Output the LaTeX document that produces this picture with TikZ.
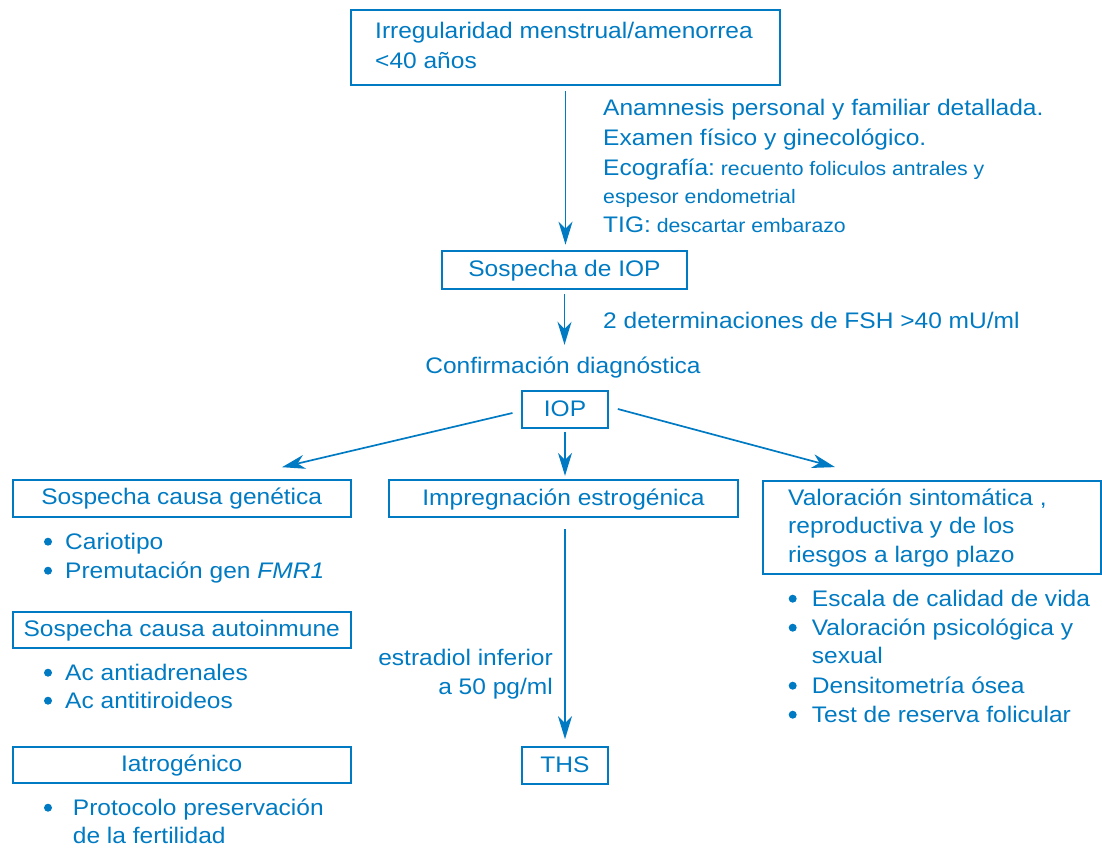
\documentclass[tikz,border=0pt]{standalone}
\usepackage{fontspec}
\setmainfont{Liberation Sans}[FakeStretch=1.09]
\usetikzlibrary{arrows.meta,calc}
\definecolor{ink}{RGB}{0,122,194}
\newcommand\fsbig{\fontsize{22.5pt}{30pt}\selectfont}
\newcommand\fssmall{\fontsize{19.5pt}{26pt}\selectfont}
\begin{document}
\begin{tikzpicture}[x=1pt,y=-1pt,
  every node/.append style={text=ink, inner sep=0pt, font=\fsbig},
  box/.style={draw=ink, line width=1.7pt, text height=17pt, text depth=4pt},
  txt/.style={anchor=base west},
  rtxt/.style={anchor=base east},
  dot/.style={circle, fill=ink, minimum size=8pt},
  arr/.style={draw=ink, line width=1.7pt, -{Stealth[length=23pt,width=14pt,inset=7pt]}}]
\useasboundingbox (0,0) rectangle (1102,848);

% top of the flow
\node[box, minimum width=429pt, minimum height=75pt] (top) at (565.5,47.5) {};
\node[txt] (top1) at (375,39) {Irregularidad menstrual/amenorrea};
\node[txt] (top2) at (375,69) {<40 años};

\node[txt] (n1) at (603,116) {Anamnesis personal y familiar detallada.};
\node[txt] (n2) at (603,145.7) {Examen físico y ginecológico.};
\node[txt] (n3) at (603,175) {Ecografía:{\fssmall\ recuento foliculos antrales y}};
\node[txt] (n4) at (603,203) {\fssmall espesor endometrial};
\node[txt] (n5) at (603,232.7) {TIG:{\fssmall\ descartar embarazo}};

\node[box, minimum width=245pt, minimum height=38pt] (sosp) at (564.5,270) {Sospecha de IOP};
\node[txt] (fsh) at (603,328) {2 determinaciones de FSH >40 mU/ml};
\node[anchor=base, text height=17pt, text depth=4pt] (conf) at (563,373) {Confirmación diagnóstica};

\node[box, minimum width=86pt, minimum height=37pt] (iop) at (565,409.5) {IOP};

% three branches
\node[box, minimum width=338pt, minimum height=36.7pt] (gen) at (181.7,498.4) {Sospecha causa genética};
\node[box, minimum width=349pt, minimum height=37pt] (imp) at (563.5,498.5) {Impregnación estrogénica};
\node[box, minimum width=338pt, minimum height=93.3pt] (val) at (932,527.3) {};
\node[txt] (v1) at (788,505) {Valoración sintomática ,};
\node[txt] (v2) at (788,533) {reproductiva y de los};
\node[txt] (v3) at (788,562) {riesgos a largo plazo};

% left column
\node[dot] (gb1) at (48,541.7) {};
\node[txt] (g1) at (65,549) {Cariotipo};
\node[dot] (gb2) at (48,570.7) {};
\node[txt] (g2) at (65,578) {Premutación gen \textit{FMR1}};

\node[box, minimum width=338pt, minimum height=36pt] (auto) at (181.7,629.7) {Sospecha causa autoinmune};
\node[dot] (ab1) at (48,672.7) {};
\node[txt] (a1) at (65,680) {Ac antiadrenales};
\node[dot] (ab2) at (48,700.7) {};
\node[txt] (a2) at (65,708) {Ac antitiroideos};

\node[box, minimum width=338pt, minimum height=36pt] (iat) at (181.7,765) {Iatrogénico};
\node[dot] (ib1) at (48,807.7) {};
\node[txt] (i1) at (72.7,815) {Protocolo preservación};
\node[txt] (i2) at (72.7,843) {de la fertilidad};

% middle column
\node[rtxt] (e1) at (553,665) {estradiol inferior};
\node[rtxt] (e2) at (553,694) {a 50 pg/ml};
\node[box, minimum width=86pt, minimum height=37pt] (ths) at (565,765.5) {THS};

% right column
\node[dot] (rb1) at (792.7,598.7) {};
\node[txt] (r1) at (811.7,606) {Escala de calidad de vida};
\node[dot] (rb2) at (792.7,627.7) {};
\node[txt] (r2) at (811.7,635) {Valoración psicológica y};
\node[txt] (r3) at (811.7,663.5) {sexual};
\node[dot] (rb3) at (792.7,685.7) {};
\node[txt] (r4) at (811.7,693) {Densitometría ósea};
\node[dot] (rb4) at (792.7,714.7) {};
\node[txt] (r5) at (811.7,722) {Test de reserva folicular};

% connectors
\draw[arr, shorten <=5pt, shorten >=5.5pt] (top.south) -- (top.south |- sosp.north);
\draw[arr, shorten <=4pt, shorten >=11pt] (sosp.south) -- (sosp.south |- conf.north);
\draw[arr] ($(iop.west)+(-8.7,3.5)$) -- ($(gen.north)+(100.3,-12)$);
\draw[arr, shorten <=2.7pt, shorten >=3.3pt] (iop.south) -- (iop.south |- imp.north);
\draw[arr] ($(iop.east)+(9,-0.5)$) -- ($(val.north)+(-97,-12.7)$);
\draw[arr, shorten <=11pt, shorten >=7pt] (iop.south |- imp.south) -- (ths.north);
\end{tikzpicture}
\end{document}
